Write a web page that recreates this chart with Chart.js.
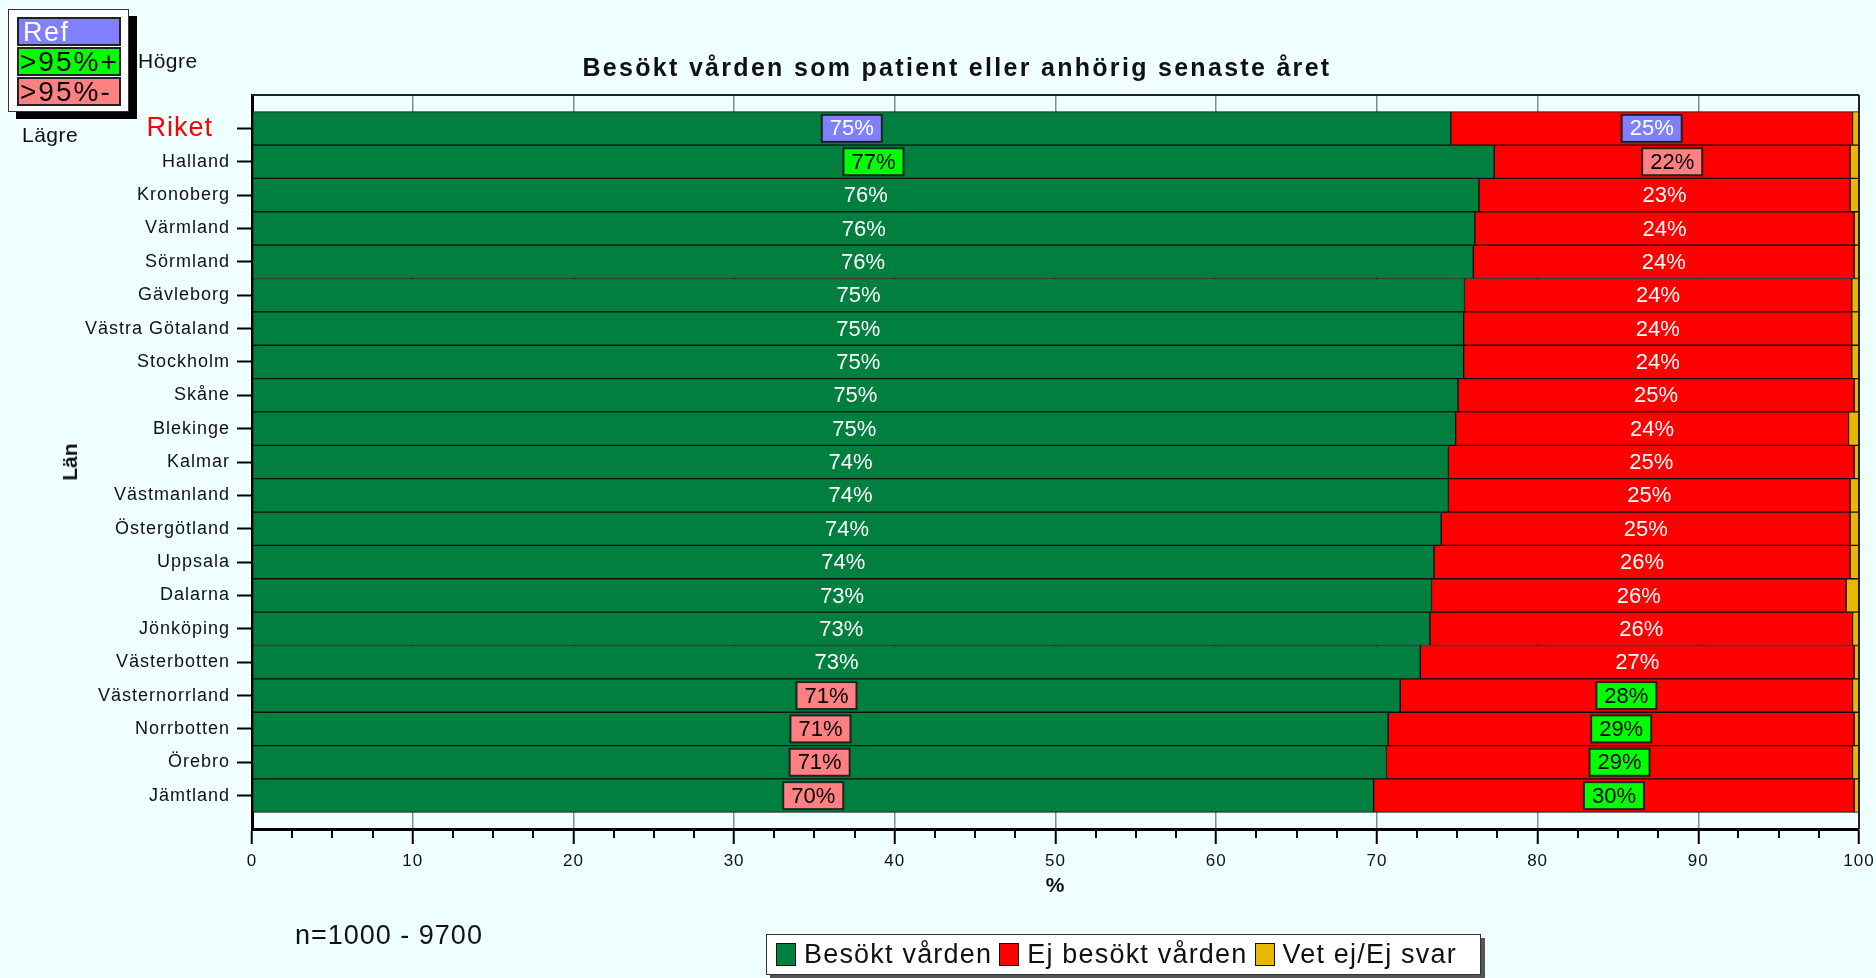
<!DOCTYPE html>
<html lang="sv">
<head>
<meta charset="utf-8">
<title>Besökt vården som patient eller anhörig senaste året</title>
<script src="https://cdn.jsdelivr.net/npm/chart.js@4.4.1/dist/chart.umd.min.js"></script>
<style>
  html, body { margin: 0; padding: 0; background: #F0FFFF; }
  body { width: 1876px; height: 978px; position: relative; overflow: hidden;
         font-family: "Liberation Sans", Arial, sans-serif; color: #111; }
  canvas { position: absolute; left: 0; top: 0; }
  .abs { position: absolute; white-space: nowrap; }
  .sig { position: absolute; left: 17px; width: 104px; height: 29px; box-sizing: border-box;
         border: 2px solid #222; font-size: 28px; line-height: 26px; padding-left: 1px; letter-spacing: 2px; }
  #legend { position: absolute; left: 766px; top: 934px; width: 715px; height: 41px; box-sizing: border-box;
            background: #fff; border: 1.5px solid #333; box-shadow: 4px 4px 0 #555;
            display: flex; align-items: center; padding-left: 9px; font-size: 27px; letter-spacing: 1.2px; }
  #legend .sw { width: 20px; height: 23px; box-sizing: border-box; border: 1.5px solid #111; margin-right: 8px; }
  #legend .it { display: flex; align-items: center; margin-right: 7px; }
</style>
</head>
<body>
<canvas id="chart" width="1876" height="978"></canvas>

<div class="abs" style="left:457px;top:52px;width:1000px;text-align:center;font-weight:bold;font-size:25px;line-height:30px;letter-spacing:2.3px;">Besökt vården som patient eller anhörig senaste året</div>

<div class="abs" style="left:8px;top:9px;width:121px;height:103px;box-sizing:border-box;background:#fff;border:1.5px solid #333;box-shadow:8px 7px 0 #000;"></div>
<div class="sig" style="top:17px;background:#8080FF;color:#fff;padding-left:4px;font-size:27px;letter-spacing:1.5px;">Ref</div>
<div class="sig" style="top:47px;background:#00FF00;color:#000;">&gt;95%+</div>
<div class="sig" style="top:77px;background:#FF8080;color:#000;">&gt;95%-</div>
<div class="abs" style="left:138px;top:47px;font-size:21px;line-height:28px;letter-spacing:0.5px;">Högre</div>
<div class="abs" style="left:22px;top:121px;font-size:21px;line-height:28px;letter-spacing:0.5px;">Lägre</div>

<div class="abs" style="left:70px;top:462px;transform:translate(-50%,-50%) rotate(-90deg);font-weight:bold;font-size:21px;">Län</div>
<div class="abs" style="left:1055px;top:885px;transform:translate(-50%,-50%);font-weight:bold;font-size:21px;">%</div>
<div class="abs" style="left:295px;top:918px;font-size:27px;line-height:34px;letter-spacing:1px;">n=1000 - 9700</div>

<div id="legend">
  <div class="it"><div class="sw" style="background:#007F3F"></div>Besökt vården</div>
  <div class="it"><div class="sw" style="background:#FF0000"></div>Ej besökt vården</div>
  <div class="it"><div class="sw" style="background:#E6B800"></div>Vet ej/Ej svar</div>
</div>

<script>
// ---- data ----
const regions = ["Riket", "Halland", "Kronoberg", "Värmland", "Sörmland", "Gävleborg",
  "Västra Götaland", "Stockholm", "Skåne", "Blekinge", "Kalmar", "Västmanland",
  "Östergötland", "Uppsala", "Dalarna", "Jönköping", "Västerbotten", "Västernorrland",
  "Norrbotten", "Örebro", "Jämtland"];

const besokt   = [74.6, 77.3, 76.35, 76.1, 76.0, 75.45, 75.4, 75.4, 75.05, 74.9, 74.45,
                  74.45, 74.0, 73.55, 73.4, 73.3, 72.7, 71.45, 70.7, 70.6, 69.8];
const ejBesokt = [25.0, 22.15, 23.1, 23.6, 23.7, 24.1, 24.15, 24.15, 24.65, 24.45, 25.25,
                  25.0, 25.45, 25.9, 25.8, 26.3, 27.0, 28.15, 29.0, 29.0, 29.9];
const vetEj    = [0.4, 0.55, 0.55, 0.3, 0.3, 0.45, 0.45, 0.45, 0.3, 0.65, 0.3,
                  0.55, 0.55, 0.55, 0.8, 0.4, 0.3, 0.4, 0.3, 0.4, 0.3];

// significance markers: ref / + / - / ""
const sigBesokt = ["ref", "+", "", "", "", "", "", "", "", "", "", "", "", "", "", "", "", "-", "-", "-", "-"];
const sigEj     = ["ref", "-", "", "", "", "", "", "", "", "", "", "", "", "", "", "", "", "+", "+", "+", "+"];

const xTicks = [0, 10, 20, 30, 40, 50, 60, 70, 80, 90, 100];

// half-slot of empty space above and below the bars
const pad = arr => [null, ...arr, null];
const allLabels = ["", ...regions, ""];
const sigs = [pad(sigBesokt), pad(sigEj)];
const sigFill = { "ref": "#8080FF", "+": "#00FF00", "-": "#FF8080" };

// ---- plugins ----
const spacingPlugin = {
  id: "spacing",
  beforeDraw(chart) { chart.ctx.letterSpacing = "1px"; },
  beforeDatasetsDraw(chart) { chart.ctx.letterSpacing = "0px"; }
};

const segLabels = {
  id: "segLabels",
  afterDatasetsDraw(chart) {
    const ctx = chart.ctx;
    ctx.save();
    ctx.font = '22px "Liberation Sans", Arial, sans-serif';
    ctx.textAlign = "center";
    ctx.textBaseline = "middle";
    [0, 1].forEach(di => {
      const ds = chart.data.datasets[di];
      chart.getDatasetMeta(di).data.forEach((bar, i) => {
        const v = ds.data[i];
        if (v == null) return;
        const txt = Math.round(v) + "%";
        const cx = (bar.x + bar.base) / 2;
        const cy = bar.y;
        const s = sigs[di][i];
        if (s) {
          const w = ctx.measureText(txt).width + 16, h = 27;
          ctx.fillStyle = sigFill[s];
          ctx.fillRect(cx - w / 2, cy - h / 2, w, h);
          ctx.lineWidth = 2;
          ctx.strokeStyle = "#222";
          ctx.strokeRect(cx - w / 2, cy - h / 2, w, h);
          ctx.fillStyle = s === "ref" ? "#fff" : "#000";
        } else {
          ctx.fillStyle = "#fff";
        }
        ctx.fillText(txt, cx, cy + 1);
      });
    });
    ctx.restore();
  }
};

const frame = {
  id: "frame",
  afterDraw(chart) {
    const ctx = chart.ctx;
    const a = chart.chartArea;
    const xs = chart.scales.x;
    ctx.save();
    ctx.strokeStyle = "#222";
    ctx.lineWidth = 2;
    ctx.beginPath();
    ctx.moveTo(a.left, a.top); ctx.lineTo(a.right, a.top);
    ctx.moveTo(a.right, a.top); ctx.lineTo(a.right, a.bottom);
    ctx.stroke();
    // minor ticks every 2.5
    ctx.strokeStyle = "#000";
    ctx.beginPath();
    for (let v = 2.5; v < 100; v += 2.5) {
      if (v % 10 === 0) continue;
      const px = Math.round(xs.getPixelForValue(v));
      ctx.moveTo(px, a.bottom); ctx.lineTo(px, a.bottom + 9);
    }
    ctx.stroke();
    ctx.restore();
  }
};

// ---- chart ----
const barDefaults = { borderColor: "#111", borderWidth: 1, borderSkipped: false,
                      categoryPercentage: 1, barPercentage: 1 };

new Chart(document.getElementById("chart"), {
  type: "bar",
  data: {
    labels: allLabels,
    datasets: [
      { label: "Besökt vården", data: pad(besokt), backgroundColor: "#007F3F", ...barDefaults },
      { label: "Ej besökt vården", data: pad(ejBesokt), backgroundColor: "#FF0000", ...barDefaults },
      { label: "Vet ej/Ej svar", data: pad(vetEj), backgroundColor: "#E6B800", ...barDefaults }
    ]
  },
  options: {
    indexAxis: "y",
    responsive: false,
    animation: false,
    layout: { padding: { top: 95, right: 17, bottom: 104, left: 0 } },
    plugins: { legend: { display: false }, tooltip: { enabled: false } },
    scales: {
      x: {
        stacked: true, min: 0, max: 100,
        afterBuildTicks: s => { s.ticks = xTicks.map(v => ({ value: v })); },
        ticks: { color: "#111", font: { size: 17, family: '"Liberation Sans", Arial, sans-serif' }, padding: 7 },
        grid: { color: "#8a8a8a", lineWidth: 1.5, tickColor: "#000", tickLength: 15, tickWidth: 2 },
        border: { color: "#000", width: 3 },
        afterFit: s => { s.height = 45; s.paddingRight = 0; s.paddingLeft = 0; }
      },
      y: {
        stacked: true, offset: false,
        ticks: {
          autoSkip: false, padding: 7,
          callback: (v, i) => i === 1 ? allLabels[i] + "  " : allLabels[i],
          color: c => c.index === 1 ? "#FF0000" : "#111",
          font: c => ({ size: c.index === 1 ? 27 : 18, family: '"Liberation Sans", Arial, sans-serif' })
        },
        grid: {
          offset: false, drawOnChartArea: false, tickLength: 15, tickWidth: 2,
          tickColor: c => (c.index === 0 || c.index === allLabels.length - 1) ? "rgba(0,0,0,0)" : "#000"
        },
        border: { color: "#000", width: 3 },
        afterFit: s => { s.width = 252; }
      }
    }
  },
  plugins: [spacingPlugin, segLabels, frame]
});
</script>
</body>
</html>
